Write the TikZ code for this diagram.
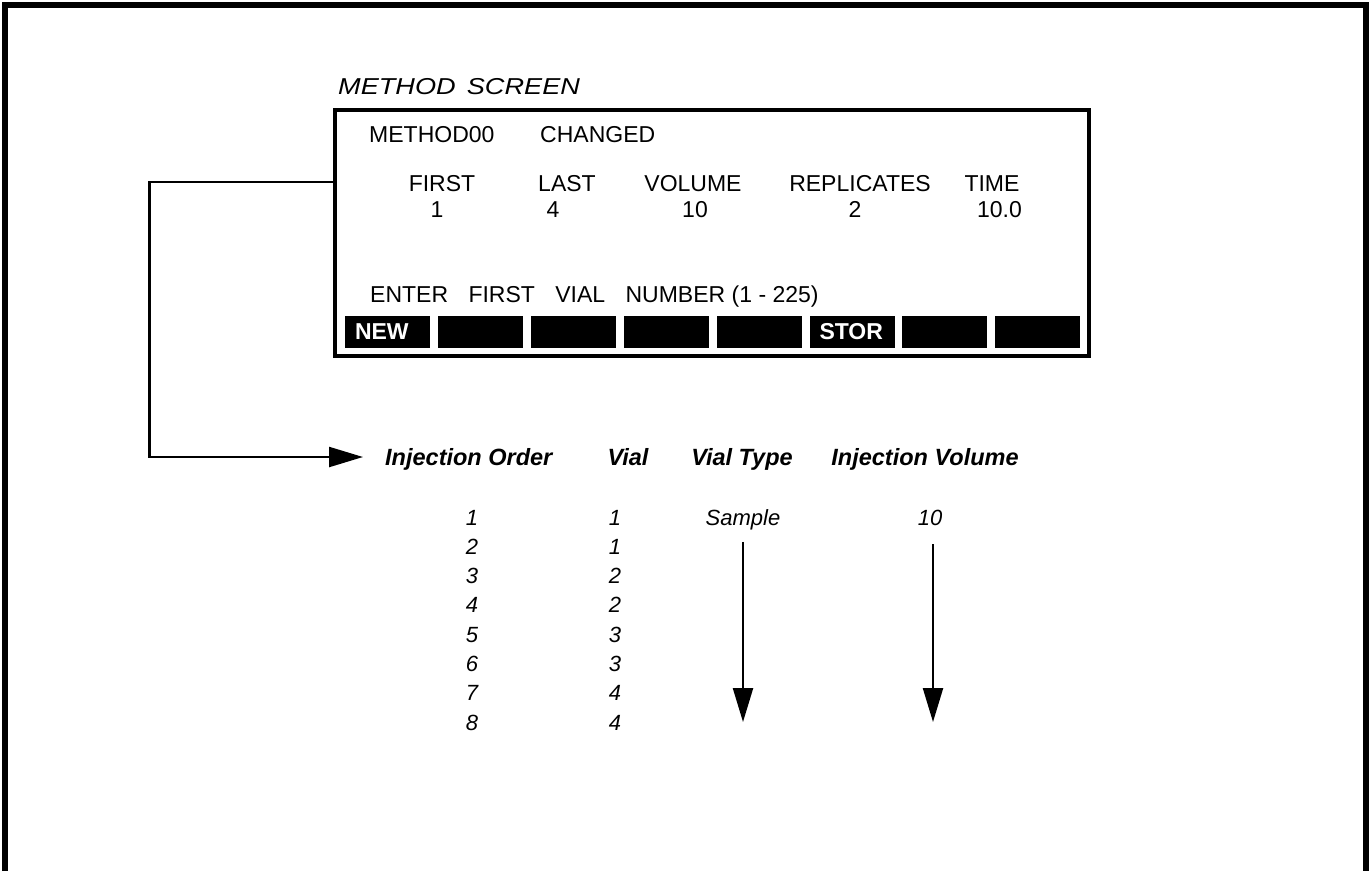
\documentclass[tikz,border=0pt]{standalone}
\usepackage{fontspec}
\setmainfont{Liberation Sans}
\usepackage{tikz}
\usetikzlibrary{arrows.meta,positioning}

\begin{document}
\begin{tikzpicture}[x=1pt, y=-1pt,
    sblock/.style={rectangle, draw=black, line width=3.3pt, minimum width=754pt, minimum height=246pt, inner sep=0pt},
    kblock/.style={rectangle, fill=black, minimum width=85pt, minimum height=32pt, text width=65pt, inner xsep=10pt, inner ysep=0pt, align=left, text=white, font=\fontsize{23}{26}\selectfont\bfseries},
    stext/.style={inner sep=0pt, font=\fontsize{23}{27}\selectfont},
    thead/.style={inner sep=0pt, font=\fontsize{23.5}{28}\selectfont\bfseries\itshape},
    tval/.style={inner sep=0pt, font=\fontsize{22}{26}\selectfont\itshape},
    sarrow/.style={-{Triangle[length=34pt, width=20pt]}, line width=2.3pt, black}
  ]
    \useasboundingbox (0,0) rectangle (1371,871);

    % Outer Frame (open at the bottom)
    \draw[line width=5.5pt] (5,871) -- (5,5) -- (1366,5) -- (1366,871);

    % Method Screen
    \node[stext, anchor=base west] (title) at (338,94) {\scalebox{1.18}[1]{\itshape METHOD\hspace{3pt} SCREEN}};
    \node[sblock] (screen) at (712,233) {};

    \node[stext, anchor=base west] (mname) at (369,142) {METHOD00};
    \node[stext, anchor=base west] (mstate) at (540,142) {CHANGED};

    \node[stext, anchor=base] (hfirst) at (442,191) {FIRST};
    \node[stext, anchor=base] (hlast) at (567,191) {LAST};
    \node[stext, anchor=base] (hvolume) at (693,191) {VOLUME};
    \node[stext, anchor=base] (hrepl) at (860,191) {REPLICATES};
    \node[stext, anchor=base] (htime) at (992,191) {TIME};

    \node[stext, anchor=base] (vfirst) at (437,217) {1};
    \node[stext, anchor=base] (vlast) at (553,217) {4};
    \node[stext, anchor=base] (vvolume) at (695,217) {10};
    \node[stext, anchor=base] (vrepl) at (855,217) {2};
    \node[stext, anchor=base east] (vtime) at (1022,217) {10.0};

    \node[stext, anchor=base west] (prompt) at (370,302) {ENTER\hspace{14pt} FIRST\hspace{14pt} VIAL\hspace{14pt} NUMBER (1 - 225)};

    % Soft keys
    \foreach \lbl [count=\i from 0] in {NEW,{},{},{},{},STOR,{},{}}
      \node[kblock] (key\i) at (387.5+92.9*\i, 332) {\lbl};

    % Injection table
    \node[thead, anchor=base west] (horder) at (385,465) {Injection Order};
    \node[thead, anchor=base] (hvial) at (628,465) {Vial};
    \node[thead, anchor=base] (htype) at (742,465) {Vial Type};
    \node[thead, anchor=base] (hinjvol) at (925,465) {Injection Volume};

    \foreach \n/\v [count=\r from 0] in {1/1,2/1,3/2,4/2,5/3,6/3,7/4,8/4} {
      \node[tval, anchor=base] (ord\n) at (472, 525+29.3*\r) {\n};
      \node[tval, anchor=base] (vial\n) at (615, 525+29.3*\r) {\v};
    }

    \node[tval, anchor=base] (vtype) at (743,525) {Sample};
    \node[tval, anchor=base] (vinjvol) at (930,525) {10};

    % Connectors
    \coordinate (tip) at (363,457);
    \coordinate (typeend) at (743,722);
    \coordinate (volend) at (933,722);
    \draw[sarrow] ([yshift=51pt]screen.west) -- ++(-184,0) |- (tip);
    \draw[sarrow] ([yshift=-12pt]vtype.south) -- (typeend);
    \draw[sarrow] ([xshift=3pt, yshift=-19pt]vinjvol.south) -- (volend);
  \end{tikzpicture}
\end{document}
